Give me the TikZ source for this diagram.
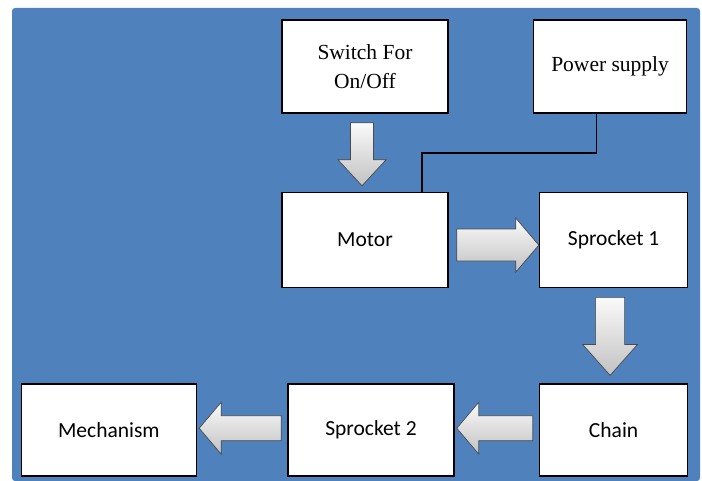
\documentclass[tikz,border=0pt]{standalone}
\usepackage{fontspec}
\setmainfont{Liberation Serif}
\newfontfamily\calfont{Carlito}
\usepackage{xcolor}
\usetikzlibrary{positioning, calc}
\definecolor{slideblue}{HTML}{4F81BD}
\definecolor{arrowedge}{HTML}{4A4A4A}

\begin{document}
\begin{tikzpicture}[x=1pt, y=-1pt,
  bx/.style={rectangle, draw=black, line width=1.6pt, fill=white, inner sep=0pt,
             align=center, minimum height=93pt},
  sr/.style={bx, font=\fontsize{21.5}{29}\selectfont},
  sn/.style={bx, font=\calfont\fontsize{21.5}{26}\selectfont},
  wire/.style={line width=1.6pt, black},
  fat/.style n args={3}{draw=arrowedge, line width=0.7pt, top color=gray!4, bottom color=gray!48,
    to path={let \p1=(\tikztostart), \p2=(\tikztotarget),
                 \n1={atan2(\y2-\y1,\x2-\x1)} in
      ($(\p1)+(\n1+90:#1)$) -- ($(\p2)+(\n1+180:#3)+(\n1+90:#1)$)
      -- ($(\p2)+(\n1+180:#3)+(\n1+90:#2)$) -- (\p2)
      -- ($(\p2)+(\n1+180:#3)+(\n1-90:#2)$) -- ($(\p2)+(\n1+180:#3)+(\n1-90:#1)$)
      -- ($(\p1)+(\n1-90:#1)$) -- cycle}}]
\useasboundingbox (0,0) rectangle (702,481);
\fill[slideblue, rounded corners=3pt] (12,8) rectangle (700,481);
% top row
\node[sr, minimum width=166pt] (sw) at (365,66.5) {Switch For\\On/Off};
\node[sn, minimum width=166pt, minimum height=95pt, below=78pt of sw] (motor) {Motor};
\node[sn, minimum width=148pt, minimum height=95pt, right=90pt of motor] (spr1) {Sprocket 1};
\node[sr, minimum width=153pt, above=78pt of spr1, xshift=-3.5pt] (power) {Power supply};
% bottom row
\node[sn, minimum width=148pt, minimum height=92pt, below=95pt of spr1] (chain) {Chain};
\node[sn, minimum width=166pt, minimum height=92pt, left=84pt of chain] (spr2) {Sprocket 2};
\node[sn, minimum width=175pt, minimum height=92pt, left=90pt of spr2] (mech) {Mechanism};
% supply line
\draw[wire] ([xshift=-13.5pt]power.south) -- ++(0,39) -| ([xshift=57pt]motor.north);
% block arrows
\path[fat={11.5pt}{24pt}{26pt}] ([xshift=-3pt,yshift=-9pt]sw.south) to ([xshift=-3pt,yshift=6pt]motor.north);
\path[fat={16pt}{27pt}{23pt}] ([xshift=8pt,yshift=-5pt]motor.east) to ([yshift=-5pt]spr1.west);
\path[fat={14.5pt}{27.5pt}{31pt}] ([xshift=-3.5pt,yshift=-9pt]spr1.south) to ([xshift=-3.5pt,yshift=8pt]chain.north);
\path[fat={12.5pt}{26pt}{22pt}] ([xshift=-6pt,yshift=2pt]chain.west) to ([xshift=2pt,yshift=2pt]spr2.east);
\path[fat={12.5pt}{26pt}{22pt}] ([xshift=-6pt,yshift=2pt]spr2.west) to ([xshift=2pt,yshift=2pt]mech.east);
\end{tikzpicture}
\end{document}
